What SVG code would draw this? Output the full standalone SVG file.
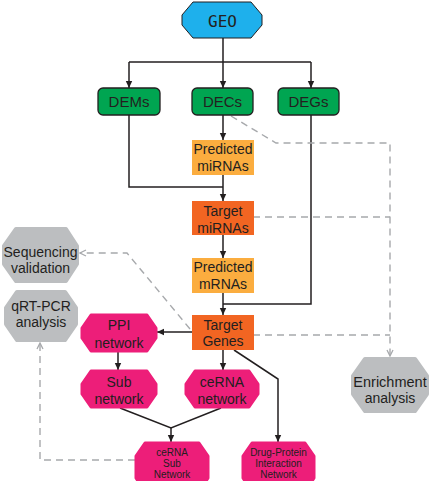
<svg xmlns="http://www.w3.org/2000/svg" width="431" height="481" viewBox="0 0 431 481">
<style>
text{font-family:"Liberation Sans",Arial,sans-serif;fill:#231f20;text-anchor:middle}
.t14{font-size:14px}
.t15{font-size:15px}
.t10{font-size:10px}
.geo{font-family:"DejaVu Sans Mono",monospace;font-size:16px}
.green{fill:#00a551;stroke:#231f20;stroke-width:1.3}
.lorange{fill:#fbad3f}
.dorange{fill:#f26522}
.mag{fill:#ed1e79;stroke:#ed1e79;stroke-width:3;stroke-linejoin:round}
.gray{fill:#bcbec0;stroke:#bcbec0;stroke-width:4;stroke-linejoin:round}
.blue{fill:#1eb0ec;stroke:#231f20;stroke-width:1;stroke-linejoin:round}
.ln{fill:none;stroke:#231f20;stroke-width:1.5}
.dash{fill:none;stroke:#a7a9ac;stroke-width:1.4;stroke-dasharray:7 5}
</style>
<defs>
<marker id="ah" markerWidth="8" markerHeight="8" refX="7" refY="4" orient="auto" markerUnits="userSpaceOnUse">
<path d="M0,0.8 L7,4 L0,7.2 Z" fill="#231f20"/>
</marker>
<marker id="gh" markerWidth="8" markerHeight="8" refX="7" refY="4" orient="auto" markerUnits="userSpaceOnUse">
<path d="M1,1 L7,4 L1,7" fill="none" stroke="#a7a9ac" stroke-width="1.3"/>
</marker>
</defs>

<g id="connectors">
<path class="ln" d="M223,38 V62 M129,62 H311"/>
<path class="ln" d="M129,62 V88" marker-end="url(#ah)"/>
<path class="ln" d="M223,62 V88" marker-end="url(#ah)"/>
<path class="ln" d="M311,62 V88" marker-end="url(#ah)"/>
<path class="ln" d="M223,115 V140" marker-end="url(#ah)"/>
<path class="ln" d="M129,115 V187 H223"/>
<path class="ln" d="M223,175 V201" marker-end="url(#ah)"/>
<path class="ln" d="M223,235 V258" marker-end="url(#ah)"/>
<path class="ln" d="M311,115 V304 H223"/>
<path class="ln" d="M223,293 V315" marker-end="url(#ah)"/>
<path class="ln" d="M192,332 H157" marker-end="url(#ah)"/>
<path class="ln" d="M118,352 V370" marker-end="url(#ah)"/>
<path class="ln" d="M223,350 V370" marker-end="url(#ah)"/>
<path class="ln" d="M234,350 L278,379 V442" marker-end="url(#ah)"/>
<path class="ln" d="M120,408 L171,428 L221,408"/>
<path class="ln" d="M171,428 V442" marker-end="url(#ah)"/>
<path class="dash" d="M231,116 L276,143 H390 V356" marker-end="url(#gh)"/>
<path class="dash" d="M253,217 H390"/>
<path class="dash" d="M253,335 H390"/>
<path class="dash" d="M190,329 L127,253 H80" marker-end="url(#gh)"/>
<path class="dash" d="M135,460 H40 V343" marker-end="url(#gh)"/>
</g>

<g id="geo">
<path class="blue" d="M193,2 H251 L262,15 V25 L251,38 H193 L182,25 V15 Z"/>
<text class="geo" x="222.5" y="27">GEO</text>
</g>

<g id="dems">
<rect class="green" x="98" y="88" width="62" height="27" rx="5"/>
<text class="t15" x="129" y="107">DEMs</text>
</g>
<g id="decs">
<rect class="green" x="192" y="88" width="61" height="27" rx="5"/>
<text class="t15" x="222.5" y="107">DECs</text>
</g>
<g id="degs">
<rect class="green" x="278" y="88" width="61" height="27" rx="5"/>
<text class="t15" x="308.5" y="107">DEGs</text>
</g>

<g id="predicted-mirnas">
<rect class="lorange" x="192" y="140" width="62" height="35"/>
<text class="t14" x="223" y="154">Predicted</text>
<text class="t14" x="223" y="171">miRNAs</text>
</g>
<g id="target-mirnas">
<rect class="dorange" x="192" y="201" width="62" height="34"/>
<text class="t14" x="223" y="216">Target</text>
<text class="t14" x="223" y="233">miRNAs</text>
</g>
<g id="predicted-mrnas">
<rect class="lorange" x="192" y="258" width="62" height="35"/>
<text class="t14" x="223" y="272">Predicted</text>
<text class="t14" x="223" y="289">mRNAs</text>
</g>
<g id="target-genes">
<rect class="dorange" x="192" y="315" width="62" height="35"/>
<text class="t14" x="223" y="330">Target</text>
<text class="t14" x="223" y="346">Genes</text>
</g>

<g id="ppi">
<path class="mag" d="M91,315 H147 L156,328 V338 L147,351 H91 L82,338 V328 Z"/>
<text class="t14" x="119" y="330">PPI</text>
<text class="t14" x="119" y="348">network</text>
</g>
<g id="sub-network">
<path class="mag" d="M91,371 H147 L156,384 V394 L147,407 H91 L82,394 V384 Z"/>
<text class="t14" x="119" y="387">Sub</text>
<text class="t14" x="119" y="404">network</text>
</g>
<g id="cerna-network">
<path class="mag" d="M195,371 H249 L258,384 V394 L249,407 H195 L186,394 V384 Z"/>
<text class="t14" x="222" y="387">ceRNA</text>
<text class="t14" x="222" y="404">network</text>
</g>
<g id="cerna-sub-network">
<path class="mag" d="M145,443 H199 L208,456 V478 L199,492 H145 L136,478 V456 Z"/>
<text class="t10" x="172" y="456">ceRNA</text>
<text class="t10" x="172" y="467">Sub</text>
<text class="t10" x="172" y="478">Network</text>
</g>
<g id="drug-protein">
<path class="mag" d="M252,443 H305 L314,456 V478 L305,492 H252 L243,478 V456 Z"/>
<text class="t10" x="278.5" y="456">Drug-Protein</text>
<text class="t10" x="278.5" y="467">Interaction</text>
<text class="t10" x="278.5" y="478">Network</text>
</g>

<g id="sequencing">
<path class="gray" d="M16,229 H66 L77,246 V264 L66,281 H16 L4,264 V246 Z"/>
<text class="t14" x="40.5" y="257">Sequencing</text>
<text class="t14" x="40.5" y="273">validation</text>
</g>
<g id="qrtpcr">
<path class="gray" d="M17,292 H65 L76,308 V324 L65,340 H17 L6,324 V308 Z"/>
<text class="t14" x="41" y="311">qRT-PCR</text>
<text class="t14" x="41" y="327">analysis</text>
</g>
<g id="enrichment">
<path class="gray" d="M365,359 H415 L427,376 V394 L415,411 H365 L353,394 V376 Z"/>
<text class="t14" x="390" y="387" style="font-size:14.5px">Enrichment</text>
<text class="t14" x="390" y="403">analysis</text>
</g>
</svg>
